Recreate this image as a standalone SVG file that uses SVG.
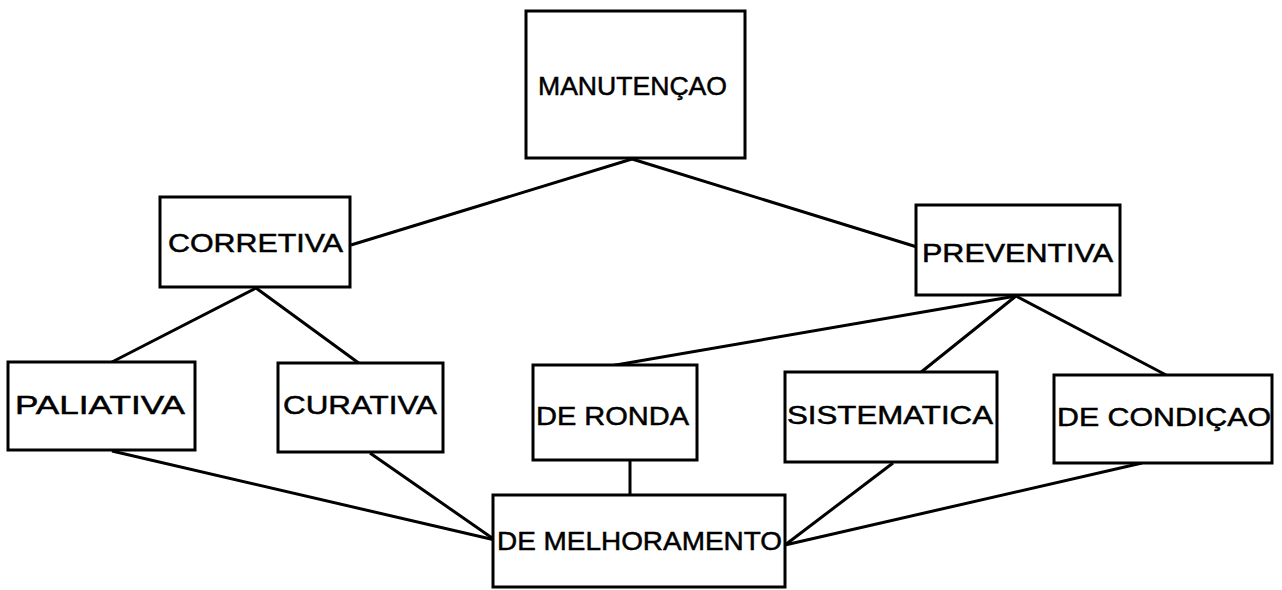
<svg xmlns="http://www.w3.org/2000/svg" width="1282" height="590" viewBox="0 0 1282 590">
<style>
.box{fill:#fff;stroke:#000;stroke-width:3}
.lbl{font-family:"Liberation Sans","DejaVu Sans",sans-serif;font-size:26px;fill:#000;stroke:#000;stroke-width:0.5}
.con line{stroke:#000;stroke-width:3}
</style>
<rect width="1282" height="590" fill="#fff"/>
<g class="con">
<line x1="632" y1="159" x2="351" y2="245"/>
<line x1="632" y1="159" x2="917" y2="247"/>
<line x1="256" y1="288" x2="110" y2="363"/>
<line x1="256" y1="288" x2="360" y2="364"/>
<line x1="1016" y1="296" x2="610" y2="366"/>
<line x1="1016" y1="296" x2="920" y2="373"/>
<line x1="1016" y1="296" x2="1168" y2="376"/>
<line x1="112" y1="451" x2="495" y2="540"/>
<line x1="370" y1="453" x2="495" y2="540"/>
<line x1="630" y1="460" x2="630" y2="495"/>
<line x1="893" y1="463" x2="785" y2="545"/>
<line x1="1142" y1="463" x2="785" y2="545"/>
</g>
<g id="manutencao"><rect class="box" x="526" y="11" width="219" height="147"/><text class="lbl" x="538" y="95" textLength="189" lengthAdjust="spacingAndGlyphs">MANUTENÇAO</text></g>
<g id="corretiva"><rect class="box" x="160" y="197" width="190" height="90"/><text class="lbl" x="168" y="252" textLength="175" lengthAdjust="spacingAndGlyphs">CORRETIVA</text></g>
<g id="preventiva"><rect class="box" x="916" y="205" width="204" height="90"/><text class="lbl" x="922" y="262" textLength="191" lengthAdjust="spacingAndGlyphs">PREVENTIVA</text></g>
<g id="paliativa"><rect class="box" x="8" y="362" width="187" height="88"/><text class="lbl" x="15" y="414" textLength="170" lengthAdjust="spacingAndGlyphs">PALIATIVA</text></g>
<g id="curativa"><rect class="box" x="278" y="363" width="165" height="89"/><text class="lbl" x="283" y="414" textLength="154" lengthAdjust="spacingAndGlyphs">CURATIVA</text></g>
<g id="deronda"><rect class="box" x="533" y="365" width="164" height="95"/><text class="lbl" x="536" y="425" textLength="153" lengthAdjust="spacingAndGlyphs">DE RONDA</text></g>
<g id="sistematica"><rect class="box" x="785" y="372" width="212" height="90"/><text class="lbl" x="787" y="424" textLength="206" lengthAdjust="spacingAndGlyphs">SISTEMATICA</text></g>
<g id="decondicao"><rect class="box" x="1054" y="375" width="218" height="88"/><text class="lbl" x="1057" y="426" textLength="214" lengthAdjust="spacingAndGlyphs">DE CONDIÇAO</text></g>
<g id="demelhoramento"><rect class="box" x="493" y="495" width="292" height="92"/><text class="lbl" x="497" y="550" textLength="285" lengthAdjust="spacingAndGlyphs">DE MELHORAMENTO</text></g>
</svg>
